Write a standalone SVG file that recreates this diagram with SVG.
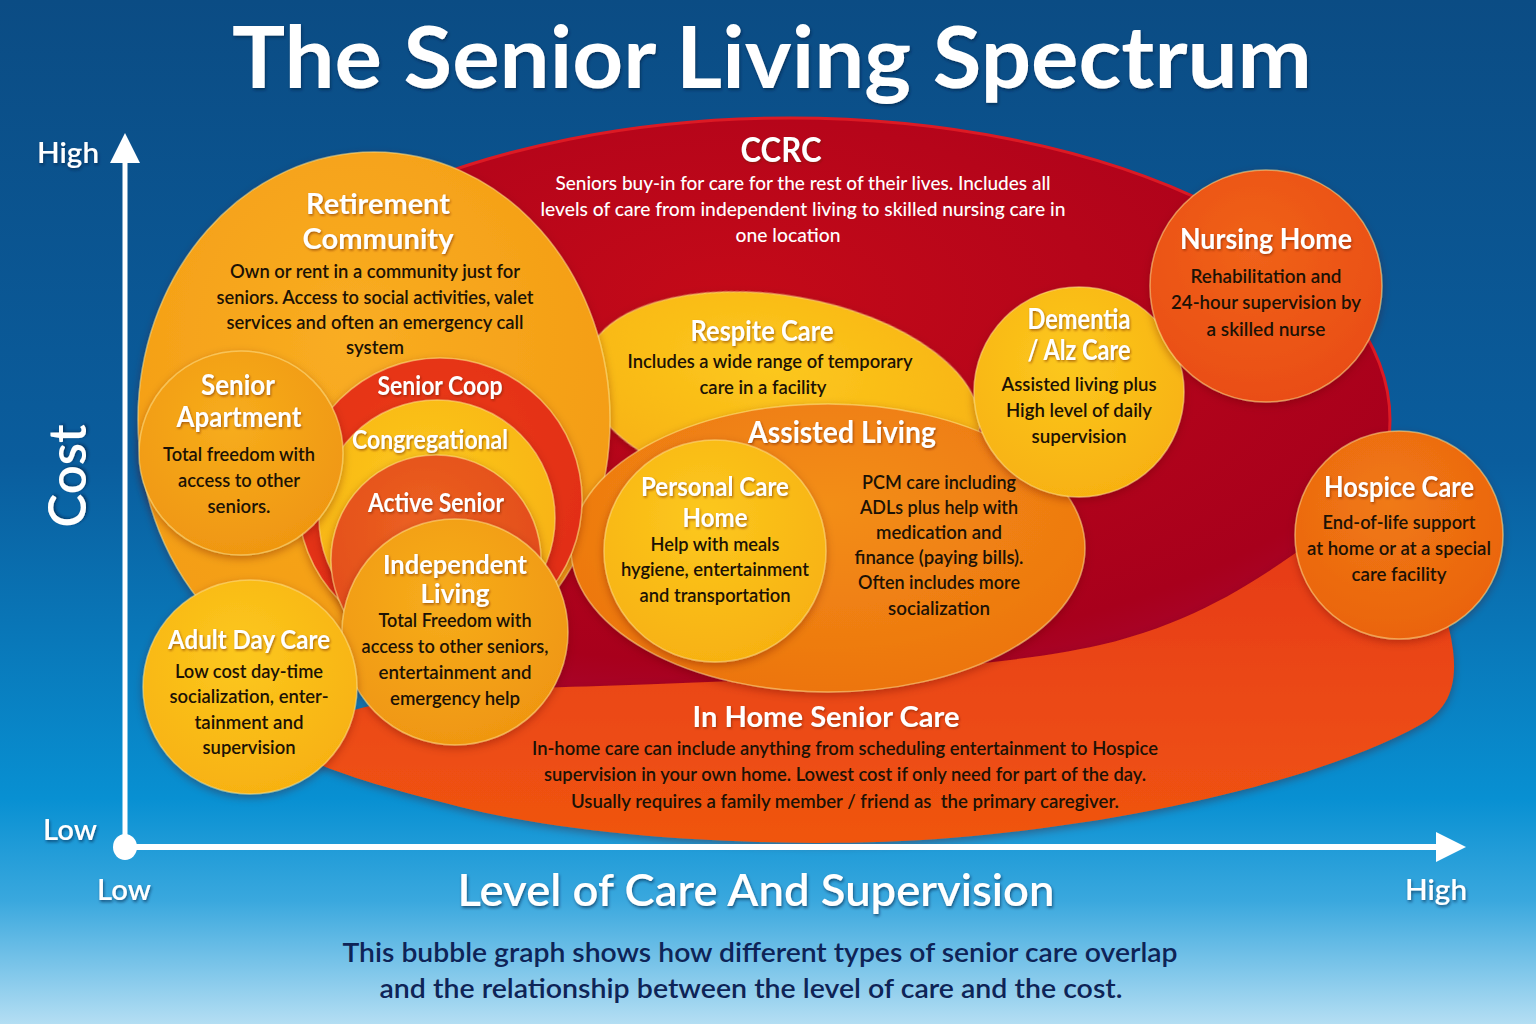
<svg xmlns="http://www.w3.org/2000/svg" width="1536" height="1024" viewBox="0 0 1536 1024">
<defs>
<linearGradient id="bg" x1="0" y1="0" x2="0" y2="1">
<stop offset="0" stop-color="#0b4c84"/>
<stop offset="0.45" stop-color="#0a5d9d"/>
<stop offset="0.78" stop-color="#0890d2"/>
<stop offset="0.88" stop-color="#3aa8de"/>
<stop offset="1" stop-color="#b4def3"/>
</linearGradient>
<radialGradient id="gCCRC" cx="0.45" cy="0.3" r="0.75">
<stop offset="0" stop-color="#c40a18"/>
<stop offset="0.8" stop-color="#a8001c"/>
<stop offset="1" stop-color="#a8083a"/>
</radialGradient>
<linearGradient id="gHome" x1="0" y1="0" x2="0" y2="1">
<stop offset="0" stop-color="#e63a18"/>
<stop offset="1" stop-color="#f05510"/>
</linearGradient>
<radialGradient id="gRetire" cx="0.45" cy="0.35" r="0.7">
<stop offset="0" stop-color="#f9ad22"/>
<stop offset="1" stop-color="#f39a12"/>
</radialGradient>
<radialGradient id="gYellow" cx="0.45" cy="0.35" r="0.7">
<stop offset="0" stop-color="#fcc81e"/>
<stop offset="1" stop-color="#f7b010"/>
</radialGradient>
<radialGradient id="gOrange" cx="0.45" cy="0.35" r="0.7">
<stop offset="0" stop-color="#f7ad1c"/>
<stop offset="1" stop-color="#ef9510"/>
</radialGradient>
<radialGradient id="gAL" cx="0.5" cy="0.35" r="0.7">
<stop offset="0" stop-color="#f38e16"/>
<stop offset="1" stop-color="#ec730e"/>
</radialGradient>
<radialGradient id="gActive" cx="0.45" cy="0.35" r="0.7">
<stop offset="0" stop-color="#ec6222"/>
<stop offset="1" stop-color="#e14818"/>
</radialGradient>
<radialGradient id="gNursing" cx="0.45" cy="0.35" r="0.7">
<stop offset="0" stop-color="#f0621a"/>
<stop offset="1" stop-color="#e94c12"/>
</radialGradient>
<radialGradient id="gHospice" cx="0.45" cy="0.35" r="0.7">
<stop offset="0" stop-color="#f07a14"/>
<stop offset="1" stop-color="#ea620e"/>
</radialGradient>
<radialGradient id="gCoop" cx="0.45" cy="0.35" r="0.7">
<stop offset="0" stop-color="#ec3c1a"/>
<stop offset="1" stop-color="#e02c16"/>
</radialGradient>
<filter id="sh" x="-10%" y="-10%" width="120%" height="125%">
<feDropShadow dx="0" dy="3" stdDeviation="4" flood-color="#5a1000" flood-opacity="0.35"/>
</filter>
<filter id="ts" x="-5%" y="-20%" width="110%" height="150%">
<feDropShadow dx="1" dy="1.5" stdDeviation="1" flood-color="#6a2000" flood-opacity="0.55"/>
</filter>
<filter id="ts2" x="-5%" y="-20%" width="110%" height="150%">
<feDropShadow dx="1" dy="2" stdDeviation="1.5" flood-color="#02203f" flood-opacity="0.6"/>
</filter>
<style>
.t{font-family:Lato,"Open Sans","Liberation Sans",sans-serif;font-weight:700;fill:#fff;text-anchor:middle;filter:url(#ts)}
.d{font-family:Lato,"Open Sans","Liberation Sans",sans-serif;font-weight:600;fill:#1c1205;text-anchor:middle;font-size:19.5px}
.w{font-family:Lato,"Open Sans","Liberation Sans",sans-serif;font-weight:500;fill:#fff;text-anchor:middle;font-size:19.5px}
.ax{font-family:Lato,"Open Sans","Liberation Sans",sans-serif;font-weight:600;fill:#fff;filter:url(#ts2)}
.bub{stroke:#ffe08a;stroke-opacity:0.55;stroke-width:1.5;filter:url(#sh)}
</style>
</defs>

<rect x="0" y="0" width="1536" height="1024" fill="url(#bg)"/>

<text x="772" y="88" font-family="Lato,'Open Sans','Liberation Sans',sans-serif" font-weight="700" font-size="86" fill="#fff" text-anchor="middle" textLength="1080" lengthAdjust="spacingAndGlyphs" filter="url(#ts2)">The Senior Living Spectrum</text>

<g id="ccrc">
<ellipse cx="790" cy="420" rx="600" ry="302" fill="url(#gCCRC)" stroke="#dc1a24" stroke-width="3"/>
<text class="t" x="781" y="162" font-size="34" textLength="81" lengthAdjust="spacingAndGlyphs">CCRC</text>
<text class="w" x="803" y="190" textLength="495" lengthAdjust="spacingAndGlyphs">Seniors buy-in for care for the rest of their lives. Includes all</text>
<text class="w" x="803" y="216" textLength="525" lengthAdjust="spacingAndGlyphs">levels of care from independent living to skilled nursing care in</text>
<text class="w" x="788" y="242" textLength="105" lengthAdjust="spacingAndGlyphs">one location</text>
</g>

<g id="in-home-senior-care">
<path d="M300,740 C330,700 450,690 600,686 C800,680 1000,668 1100,645 C1190,624 1250,585 1300,550 C1370,505 1445,570 1453,650 C1458,690 1445,712 1420,725 C1330,775 1150,822 950,838 C800,850 600,840 473,810 C400,792 340,775 310,760 C290,750 290,745 300,740 Z" fill="url(#gHome)" filter="url(#sh)"/>
<text class="t" x="826" y="727" font-size="29" textLength="267" lengthAdjust="spacingAndGlyphs">In Home Senior Care</text>
<text class="d" x="845" y="755" textLength="626" lengthAdjust="spacingAndGlyphs">In-home care can include anything from scheduling entertainment to Hospice</text>
<text class="d" x="845" y="781" textLength="602" lengthAdjust="spacingAndGlyphs">supervision in your own home. Lowest cost if only need for part of the day.</text>
<text class="d" x="845" y="808" textLength="548" lengthAdjust="spacingAndGlyphs" style="white-space:pre">Usually requires a family member / friend as  the primary caregiver.</text>
</g>

<g id="respite-care">
<ellipse cx="782" cy="398" rx="200" ry="102" transform="rotate(10 782 398)" fill="url(#gYellow)" class="bub"/>
<text class="t" x="762" y="341" font-size="28" textLength="143" lengthAdjust="spacingAndGlyphs">Respite Care</text>
<text class="d" x="770" y="368" textLength="285" lengthAdjust="spacingAndGlyphs">Includes a wide range of temporary</text>
<text class="d" x="763" y="394" textLength="127" lengthAdjust="spacingAndGlyphs">care in a facility</text>
</g>

<g id="retirement-community">
<ellipse cx="374" cy="420" rx="236" ry="268" fill="url(#gRetire)" class="bub"/>
<text class="t" x="378" y="214" font-size="29" textLength="144" lengthAdjust="spacingAndGlyphs">Retirement</text>
<text class="t" x="378" y="249" font-size="29" textLength="151" lengthAdjust="spacingAndGlyphs">Community</text>
<text class="d" x="375" y="278" textLength="290" lengthAdjust="spacingAndGlyphs">Own or rent in a community just for</text>
<text class="d" x="375" y="304" textLength="317" lengthAdjust="spacingAndGlyphs">seniors. Access to social activities, valet</text>
<text class="d" x="375" y="329" textLength="297" lengthAdjust="spacingAndGlyphs">services and often an emergency call</text>
<text class="d" x="375" y="354" textLength="58" lengthAdjust="spacingAndGlyphs">system</text>
</g>

<g id="assisted-living">
<ellipse cx="828" cy="548" rx="257" ry="144" fill="url(#gAL)" class="bub" stroke="#fff3c0"/>
<text class="t" x="842" y="443" font-size="31" textLength="188" lengthAdjust="spacingAndGlyphs">Assisted Living</text>
<text class="d" x="939" y="489" textLength="154" lengthAdjust="spacingAndGlyphs">PCM care including</text>
<text class="d" x="939" y="514" textLength="158" lengthAdjust="spacingAndGlyphs">ADLs plus help with</text>
<text class="d" x="939" y="539" textLength="126" lengthAdjust="spacingAndGlyphs">medication and</text>
<text class="d" x="939" y="564" textLength="169" lengthAdjust="spacingAndGlyphs">finance (paying bills).</text>
<text class="d" x="939" y="589" textLength="162" lengthAdjust="spacingAndGlyphs">Often includes more</text>
<text class="d" x="939" y="615" textLength="102" lengthAdjust="spacingAndGlyphs">socialization</text>
</g>

<g id="personal-care-home">
<circle cx="715" cy="551" r="111" fill="url(#gYellow)" class="bub"/>
<text class="t" x="715" y="496" font-size="26" textLength="148" lengthAdjust="spacingAndGlyphs">Personal Care</text>
<text class="t" x="715" y="527" font-size="26" textLength="65" lengthAdjust="spacingAndGlyphs">Home</text>
<text class="d" x="715" y="551" textLength="129" lengthAdjust="spacingAndGlyphs">Help with meals</text>
<text class="d" x="715" y="576" textLength="188" lengthAdjust="spacingAndGlyphs">hygiene, entertainment</text>
<text class="d" x="715" y="602" textLength="151" lengthAdjust="spacingAndGlyphs">and transportation</text>
</g>

<g id="dementia-alz-care">
<circle cx="1079" cy="392" r="105" fill="url(#gYellow)" class="bub"/>
<text class="t" x="1079" y="329" font-size="28" textLength="103" lengthAdjust="spacingAndGlyphs">Dementia</text>
<text class="t" x="1079" y="360" font-size="28" textLength="103" lengthAdjust="spacingAndGlyphs">/ Alz Care</text>
<text class="d" x="1079" y="391" textLength="155" lengthAdjust="spacingAndGlyphs">Assisted living plus</text>
<text class="d" x="1079" y="417" textLength="146" lengthAdjust="spacingAndGlyphs">High level of daily</text>
<text class="d" x="1079" y="443" textLength="95" lengthAdjust="spacingAndGlyphs">supervision</text>
</g>

<g id="nursing-home">
<circle cx="1266" cy="286" r="116" fill="url(#gNursing)" class="bub"/>
<text class="t" x="1266" y="249" font-size="29" textLength="172" lengthAdjust="spacingAndGlyphs">Nursing Home</text>
<text class="d" x="1266" y="283" textLength="151" lengthAdjust="spacingAndGlyphs">Rehabilitation and</text>
<text class="d" x="1266" y="309" textLength="190" lengthAdjust="spacingAndGlyphs">24-hour supervision by</text>
<text class="d" x="1266" y="336" textLength="119" lengthAdjust="spacingAndGlyphs">a skilled nurse</text>
</g>

<g id="hospice-care">
<circle cx="1399" cy="535" r="104" fill="url(#gHospice)" class="bub"/>
<text class="t" x="1399" y="497" font-size="29" textLength="150" lengthAdjust="spacingAndGlyphs">Hospice Care</text>
<text class="d" x="1399" y="529" textLength="153" lengthAdjust="spacingAndGlyphs">End-of-life support</text>
<text class="d" x="1399" y="555" textLength="184" lengthAdjust="spacingAndGlyphs">at home or at a special</text>
<text class="d" x="1399" y="581" textLength="95" lengthAdjust="spacingAndGlyphs">care facility</text>
</g>

<g id="senior-coop">
<circle cx="440" cy="500" r="142" fill="url(#gCoop)" class="bub"/>
<text class="t" x="440" y="395" font-size="26" textLength="125" lengthAdjust="spacingAndGlyphs">Senior Coop</text>
</g>

<g id="congregational">
<circle cx="437" cy="518" r="118" fill="url(#gYellow)" class="bub"/>
<text class="t" x="430" y="449" font-size="26" textLength="156" lengthAdjust="spacingAndGlyphs">Congregational</text>
</g>

<g id="active-senior">
<circle cx="436" cy="560" r="105" fill="url(#gActive)" class="bub"/>
<text class="t" x="436" y="512" font-size="26" textLength="136" lengthAdjust="spacingAndGlyphs">Active Senior</text>
</g>

<g id="senior-apartment">
<circle cx="241" cy="453" r="102" fill="url(#gOrange)" class="bub"/>
<text class="t" x="238" y="395" font-size="28" textLength="74" lengthAdjust="spacingAndGlyphs">Senior</text>
<text class="t" x="239" y="427" font-size="28" textLength="125" lengthAdjust="spacingAndGlyphs">Apartment</text>
<text class="d" x="239" y="461" textLength="152" lengthAdjust="spacingAndGlyphs">Total freedom with</text>
<text class="d" x="239" y="487" textLength="122" lengthAdjust="spacingAndGlyphs">access to other</text>
<text class="d" x="239" y="513" textLength="63" lengthAdjust="spacingAndGlyphs">seniors.</text>
</g>

<g id="independent-living">
<circle cx="455" cy="632" r="113" fill="url(#gOrange)" class="bub"/>
<text class="t" x="455" y="574" font-size="26" textLength="144" lengthAdjust="spacingAndGlyphs">Independent</text>
<text class="t" x="455" y="603" font-size="26" textLength="69" lengthAdjust="spacingAndGlyphs">Living</text>
<text class="d" x="455" y="627" textLength="153" lengthAdjust="spacingAndGlyphs">Total Freedom with</text>
<text class="d" x="455" y="653" textLength="187" lengthAdjust="spacingAndGlyphs">access to other seniors,</text>
<text class="d" x="455" y="679" textLength="153" lengthAdjust="spacingAndGlyphs">entertainment and</text>
<text class="d" x="455" y="705" textLength="130" lengthAdjust="spacingAndGlyphs">emergency help</text>
</g>

<g id="adult-day-care">
<circle cx="250" cy="687" r="107" fill="url(#gYellow)" class="bub"/>
<text class="t" x="249" y="649" font-size="27" textLength="162" lengthAdjust="spacingAndGlyphs">Adult Day Care</text>
<text class="d" x="249" y="678" textLength="148" lengthAdjust="spacingAndGlyphs">Low cost day-time</text>
<text class="d" x="249" y="703" textLength="159" lengthAdjust="spacingAndGlyphs">socialization, enter-</text>
<text class="d" x="249" y="729" textLength="109" lengthAdjust="spacingAndGlyphs">tainment and</text>
<text class="d" x="249" y="754" textLength="93" lengthAdjust="spacingAndGlyphs">supervision</text>
</g>

<g id="axes">
<line x1="125" y1="158" x2="125" y2="847" stroke="#fff" stroke-width="5"/>
<polygon points="125,133 110,163 140,163" fill="#fff"/>
<line x1="125" y1="847" x2="1440" y2="847" stroke="#fff" stroke-width="6"/>
<polygon points="1466,847 1436,832 1436,862" fill="#fff"/>
<ellipse cx="125" cy="847" rx="12" ry="13" fill="#fff"/>
</g>

<g id="axis-labels">
<text class="ax" x="37" y="163" font-size="28" textLength="62" lengthAdjust="spacingAndGlyphs">High</text>
<text class="ax" x="43" y="840" font-size="28" textLength="54" lengthAdjust="spacingAndGlyphs">Low</text>
<text class="ax" x="97" y="900" font-size="28" textLength="54" lengthAdjust="spacingAndGlyphs">Low</text>
<text class="ax" x="1405" y="900" font-size="28" textLength="62" lengthAdjust="spacingAndGlyphs">High</text>
<text class="ax" x="0" y="0" font-size="52" font-weight="700" text-anchor="middle" transform="translate(86 476) rotate(-90)" textLength="103" lengthAdjust="spacingAndGlyphs">Cost</text>
<text class="ax" x="756" y="906" font-size="45" font-weight="700" text-anchor="middle" textLength="597" lengthAdjust="spacingAndGlyphs">Level of Care And Supervision</text>
</g>

<g id="caption">
<text x="760" y="962" font-family="Lato,'Open Sans','Liberation Sans',sans-serif" font-weight="600" font-size="27" fill="#0e2457" text-anchor="middle" textLength="835" lengthAdjust="spacingAndGlyphs">This bubble graph shows how different types of senior care overlap</text>
<text x="751" y="998" font-family="Lato,'Open Sans','Liberation Sans',sans-serif" font-weight="600" font-size="27" fill="#0e2457" text-anchor="middle" textLength="743" lengthAdjust="spacingAndGlyphs">and the relationship between the level of care and the cost.</text>
</g>
</svg>
